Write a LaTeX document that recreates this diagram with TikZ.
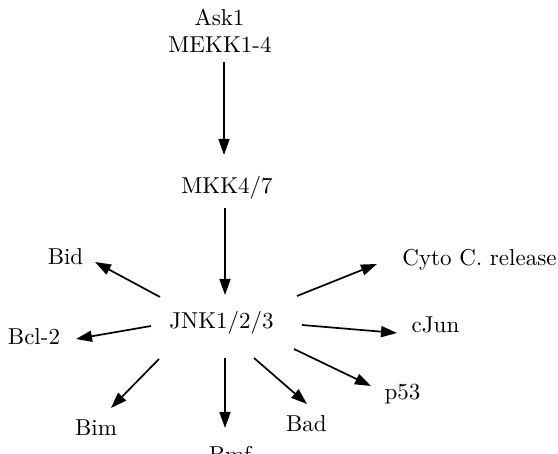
\documentclass[tikz,border=0pt]{standalone}
\usetikzlibrary{arrows.meta}
\begin{document}
\begin{tikzpicture}[x=1pt,y=-1pt,
  lbl/.style={anchor=base,inner sep=0pt,font=\fontsize{10}{12}\selectfont,scale=2.3,transform shape},
  arr/.style={line width=1.7pt,-{Triangle[length=16pt,width=11pt]}}]
\useasboundingbox (0,0) rectangle (558,454);
% pathway members, placed by their baselines
\node[lbl] (ask)  at (219.5,26) {Ask1};
\node[lbl] (mekk) at (220,53)   {MEKK1-4};
\node[lbl] (mkk)  at (227,194)  {MKK4/7};
\node[lbl] (jnk)  at (221.5,329){JNK1/2/3};
\node[lbl] (bid)  at (65.5,265) {Bid};
\node[lbl] (bcl)  at (34,345)   {Bcl-2};
\node[lbl] (bim)  at (96,436)   {Bim};
\node[lbl] (bmf)  at (230,463)  {Bmf};
\node[lbl] (bad)  at (306.5,432){Bad};
\node[lbl] (p53)  at (402.5,400){p53};
\node[lbl] (cjun) at (435.5,333){cJun};
\node[lbl] (cyto) at (479.5,266){Cyto C. release};
% kinase cascade
\draw[arr] ([shift={(4,9)}]mekk.base) -- ([shift={(-3,-39)}]mkk.base);
\draw[arr] ([shift={(-2,14)}]mkk.base) -- ([shift={(3.5,-34)}]jnk.base);
% JNK targets
\draw[arr] ([shift={(-61.5,-32)}]jnk.base) -- ([shift={(29.5,-3)}]bid.base);
\draw[arr] ([shift={(-70.5,-3)}]jnk.base) -- ([shift={(42,-6)}]bcl.base);
\draw[arr] ([shift={(-62.5,30)}]jnk.base) -- ([shift={(15,-28)}]bim.base);
\draw[arr] ([shift={(3.5,29)}]jnk.base) -- ([shift={(-5,-35)}]bmf.base);
\draw[arr] ([shift={(32.5,29)}]jnk.base) -- ([shift={(0.5,-28)}]bad.base);
\draw[arr] ([shift={(72.5,20)}]jnk.base) -- ([shift={(-31.5,-14)}]p53.base);
\draw[arr] ([shift={(80.5,-4)}]jnk.base) -- ([shift={(-38.5,0)}]cjun.base);
\draw[arr] ([shift={(75.5,-33)}]jnk.base) -- ([shift={(-102.5,-2)}]cyto.base);
\end{tikzpicture}
\end{document}
